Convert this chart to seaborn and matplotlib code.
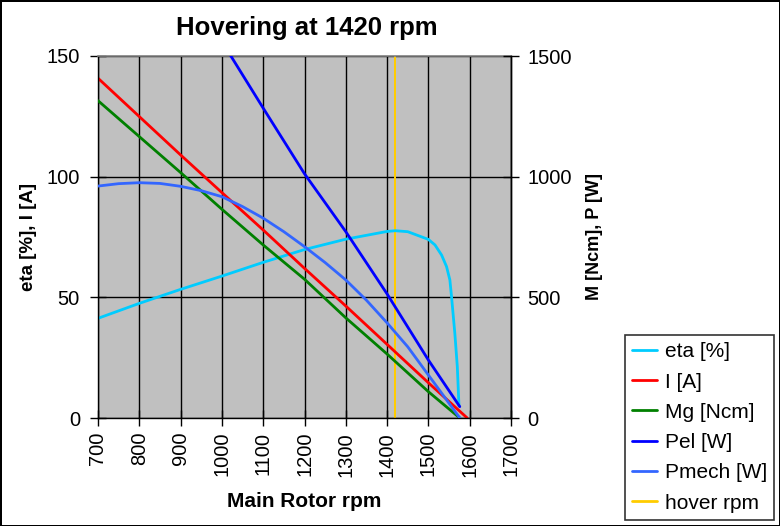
import matplotlib
matplotlib.use("Agg")
import matplotlib.pyplot as plt
import seaborn as sns

# ---- data ----
rpm_eta = [700, 800, 900, 1000, 1100, 1200, 1300, 1400, 1420, 1450, 1500,
           1516, 1532, 1544, 1552, 1556, 1564, 1570, 1574]
eta = [41.3, 47.5, 53.3, 58.8, 64.5, 69.8, 74.1, 77.3, 77.6, 77.2, 74.0,
       71.7, 67.5, 62.7, 57.2, 50.3, 35.1, 21.3, 5.0]

rpm_i = [700, 800, 900, 1000, 1100, 1200, 1300, 1400, 1500, 1594]
current = [140.8, 124.9, 109.0, 93.4, 77.9, 62.0, 46.4, 30.5, 14.6, 0.0]

rpm_m = [700, 800, 900, 1000, 1100, 1200, 1300, 1400, 1500, 1576]
torque = [1315, 1166, 1017, 865, 717, 575, 415, 265, 109, 0]

rpm_pel = [700, 800, 900, 1000, 1100, 1200, 1300, 1400, 1500, 1576]
pel = [2327, 2048, 1800, 1560, 1284, 1012, 772, 514, 240, 47]

rpm_pmech = [700, 750, 800, 850, 900, 950, 1000, 1050, 1100, 1150, 1200,
             1250, 1300, 1350, 1400, 1450, 1500, 1544, 1576]
pmech = [961, 971, 975, 972, 960, 942, 917, 876, 828, 772, 710,
         644, 572, 488, 394, 295, 178, 75, 0]

hover_x = [1420, 1420]
hover_y = [0, 150]

x_ticks = [700, 800, 900, 1000, 1100, 1200, 1300, 1400, 1500, 1600, 1700]
left_ticks = [0, 50, 100, 150]
right_ticks = [0, 500, 1000, 1500]

title = "Hovering at 1420 rpm"
xlabel = "Main Rotor rpm"
ylabel_left = "eta [%], I [A]"
ylabel_right = "M [Ncm], P [W]"

# ---- style ----
sns.set_theme(style="white")
plt.rcParams["font.family"] = ["Liberation Sans", "DejaVu Sans"]
for k in ("text.color", "axes.labelcolor", "xtick.color", "ytick.color"):
    plt.rcParams[k] = "black"

fig = plt.figure(figsize=(7.8, 5.26), dpi=100, facecolor="white",
                 edgecolor="black", linewidth=2)
ax = fig.add_axes([98 / 780, 1 - 418 / 526, 413 / 780, 362 / 526])
ax.set_facecolor("#C0C0C0")
ax2 = ax.twinx()

lw = 2.0
sns.lineplot(x=hover_x, y=hover_y, ax=ax, color="#FFCC00", lw=1.2,
             estimator=None, sort=False, label="hover rpm", antialiased=False)
sns.lineplot(x=rpm_eta, y=eta, ax=ax, color="#00CCFF", lw=lw,
             estimator=None, sort=False, label="eta [%]")
sns.lineplot(x=rpm_i, y=current, ax=ax, color="#FF0000", lw=lw,
             estimator=None, sort=False, label="I [A]")
sns.lineplot(x=rpm_m, y=torque, ax=ax2, color="#008000", lw=lw,
             estimator=None, sort=False, label="Mg [Ncm]")
sns.lineplot(x=rpm_pel, y=pel, ax=ax2, color="#0000FF", lw=lw,
             estimator=None, sort=False, label="Pel [W]")
sns.lineplot(x=rpm_pmech, y=pmech, ax=ax2, color="#3366FF", lw=lw,
             estimator=None, sort=False, label="Pmech [W]")

h1, l1 = ax.get_legend_handles_labels()
h2, l2 = ax2.get_legend_handles_labels()
for a in (ax, ax2):
    if a.get_legend() is not None:
        a.get_legend().remove()
hmap = dict(zip(l1 + l2, h1 + h2))
order = ["eta [%]", "I [A]", "Mg [Ncm]", "Pel [W]", "Pmech [W]", "hover rpm"]

ax.set_xlim(700, 1700)
ax.set_ylim(0, 150)
ax2.set_ylim(0, 1500)
ax.set_xticks(x_ticks)
ax.set_yticks(left_ticks)
ax2.set_yticks(right_ticks)
ax.set_xticklabels([str(v) for v in x_ticks], rotation=90)

ax.grid(True, color="black", lw=1)
ax2.grid(False)
ax.set_axisbelow(True)

for s in ("left", "bottom", "right"):
    ax.spines[s].set_color("black")
    ax.spines[s].set_linewidth(1)
ax.spines["top"].set_color("#808080")
ax.spines["top"].set_linewidth(1.2)
ax2.spines["right"].set_color("black")
ax2.spines["right"].set_linewidth(1)
for s in ("left", "top", "bottom"):
    ax2.spines[s].set_visible(False)

ax.tick_params(axis="x", direction="inout", length=12, width=1,
               color="black", labelsize=14.5, pad=4, bottom=True)
ax.tick_params(axis="y", direction="inout", length=12, width=1,
               color="black", labelsize=14.5, pad=7, left=True)
ax2.tick_params(axis="y", direction="inout", length=12, width=1,
                color="black", labelsize=14.5, pad=6, right=True)

ax.set_xlabel(xlabel, fontsize=15, fontweight="bold")
ax.xaxis.set_label_coords(0.5, -0.232)
ax.xaxis.label.set_va("center")
ax.set_ylabel(ylabel_left, fontsize=13.5, fontweight="bold")
ax.yaxis.set_label_coords(-0.168, 0.5)
ax.yaxis.label.set_va("center")
ax2.set_ylabel(ylabel_right, fontsize=13, fontweight="bold", rotation=90)
ax2.yaxis.set_label_coords(1.203, 0.5)
ax2.yaxis.label.set_va("center")

fig.text(307 / 780, 1 - 28 / 526, title, fontsize=18.5, fontweight="bold",
         ha="center", va="center")

leg = fig.legend([hmap[k] for k in order], order, loc="upper left",
                 bbox_to_anchor=(625 / 780, 1 - 335 / 526),
                 bbox_transform=fig.transFigure, frameon=True, fancybox=False,
                 edgecolor="black", facecolor="white", fontsize=15,
                 handlelength=1.2, handletextpad=0.36, borderpad=0.35,
                 labelspacing=0.54, borderaxespad=0)
leg.get_frame().set_linewidth(1.2)
for line in leg.get_lines():
    line.set_linewidth(2)

fig.savefig("out.png", dpi=100, facecolor="white", edgecolor="black")
